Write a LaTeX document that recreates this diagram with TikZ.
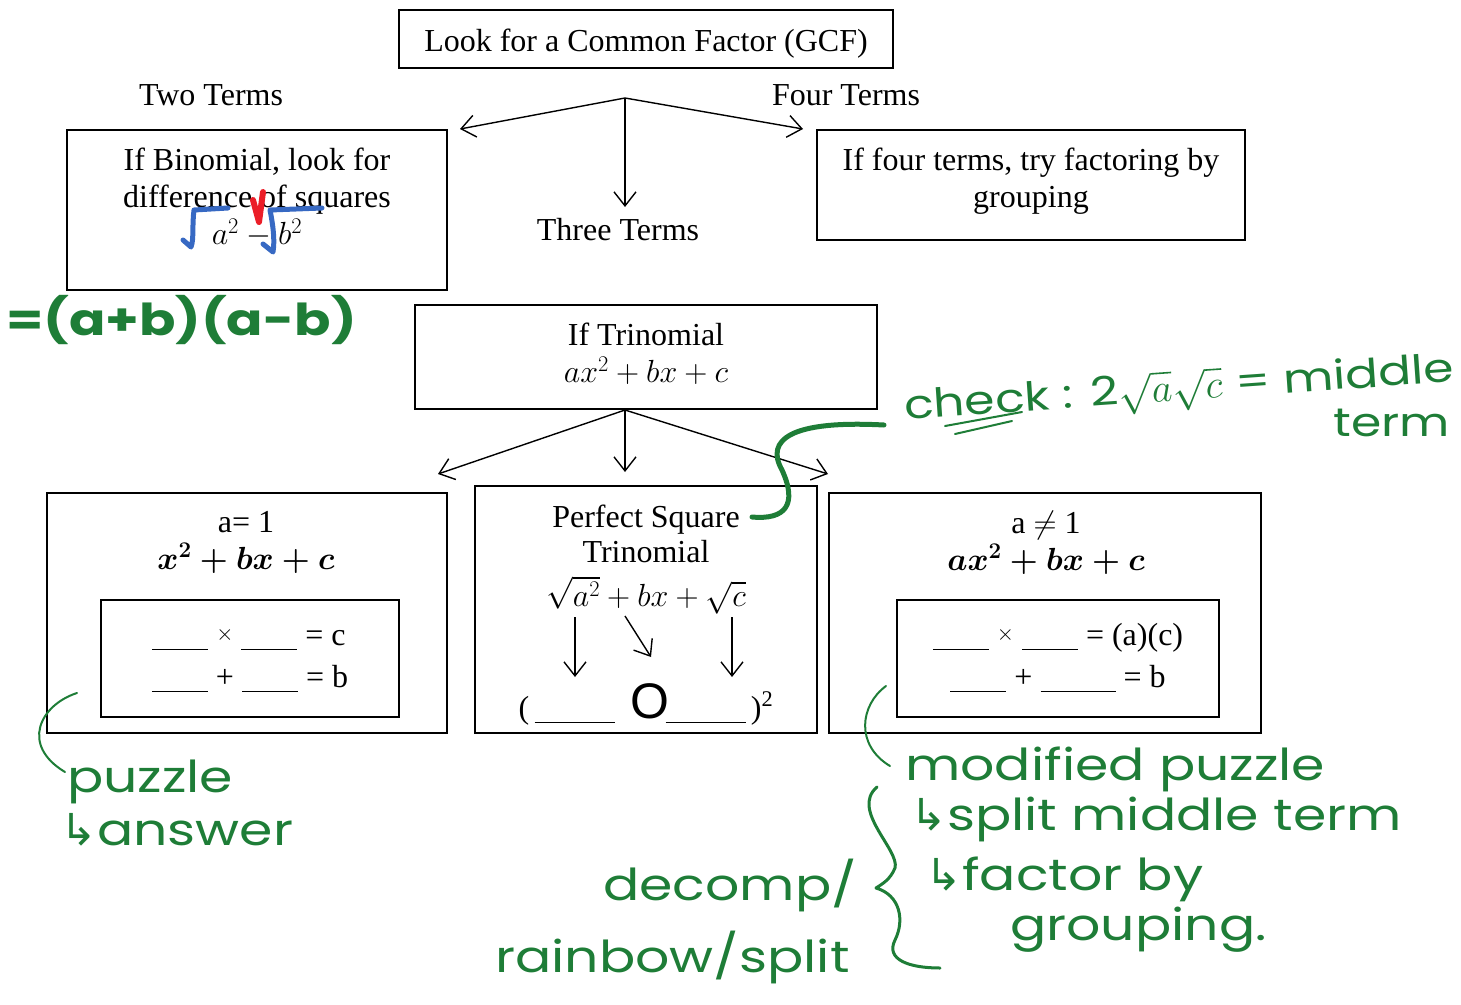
\RequirePackage{fix-cm}
\documentclass[tikz,border=0pt]{standalone}
\usepackage{fontspec}
\setmainfont{Liberation Serif}
\newfontfamily\hand[FakeStretch=1.22]{Poppins}
\newfontfamily\arialfont{Liberation Sans}
\newfontfamily\symfont{DejaVu Sans}
\usetikzlibrary{arrows.meta}
\definecolor{pen}{RGB}{30,125,55}
\definecolor{penblue}{RGB}{55,105,195}
\definecolor{penred}{RGB}{235,30,40}
\newcommand{\blank}[1][56pt]{\rule[-5pt]{#1}{1.3pt}}
\newcommand{\hookarrow}{{\symfont ↳}}
\newcommand{\smalltimes}{\raisebox{5pt}{\fontsize{22}{22}\selectfont$\times$}}

\tikzset{
  box/.style={draw, line width=1.5pt, inner sep=0pt},
  txt/.style={align=center, inner sep=0pt, font=\fontsize{32}{37}\selectfont},
  arr/.style={-{Straight Barb[length=14pt,width=22pt]}, line width=1.4pt},
  hand/.style={text=pen, inner sep=0pt, font=\hand\fontsize{44}{50}\selectfont},
  ink/.style={draw=pen, line width=2pt, line cap=round, line join=round}
}

\begin{document}
\begin{tikzpicture}[x=1pt,y=-1pt]
\useasboundingbox (0,0) rectangle (1461,1004);

% top row
\node[box, minimum width=494pt, minimum height=58pt] (gcf) at (646,39) {};
\node[txt, anchor=base] (gcftxt) at (646,51) {Look for a Common Factor (GCF)};
\node[txt, anchor=base] (two) at (211,105) {Two Terms};
\node[txt, anchor=base] (four) at (846,105) {Four Terms};
\node[txt, anchor=base] (three) at (618,240) {Three Terms};

\coordinate (fork1) at (625,98);
\coordinate (to2) at (460,129);
\coordinate (to4) at (803,129);
\coordinate (to3) at (625,207);
\draw[arr] (fork1) -- (to2);
\draw[arr] (fork1) -- (to4);
\draw[arr] (fork1) -- (to3);

% binomial and four terms
\node[box, minimum width=380pt, minimum height=160pt] (binom) at (257,210) {};
\node[txt, anchor=north] (binomtxt) at (257,148) {If Binomial, look for\\difference of squares\\$a^2-b^2$};
\node[box, minimum width=428pt, minimum height=110pt] (fourbox) at (1031,185) {};
\node[txt, anchor=north] (fourtxt) at (1031,148) {If four terms, try factoring by\\grouping};

% trinomial
\node[box, minimum width=462pt, minimum height=104pt] (tri) at (646,357) {};
\node[txt, anchor=north] (tritxt) at (646,323) {If Trinomial\\$ax^2+bx+c$};

\coordinate (fork2) at (625,410);
\coordinate (toA) at (438,474);
\coordinate (toP) at (625,472);
\coordinate (toB) at (828,474);
\draw[arr] (fork2) -- (toA);
\draw[arr] (fork2) -- (toP);
\draw[arr] (fork2) -- (toB);

% a = 1
\node[box, minimum width=400pt, minimum height=240pt] (aone) at (247,613) {};
\node[txt, anchor=north] (aonetxt) at (246,511) {a= 1\\{\boldmath$x^2+bx+c$}};
\node[box, minimum width=298pt, minimum height=117pt] (puzzle) at (250,658.5) {};
\node[txt, anchor=base] (puzzlemul) at (249,645) {\blank\ \smalltimes\ \blank\ = c};
\node[txt, anchor=base] (puzzleadd) at (250,687) {\blank\ + \blank\ = b};

% perfect square
\node[box, line width=2.2pt, minimum width=342pt, minimum height=247pt] (perfect) at (646,609.5) {};
\node[txt, anchor=north, font=\fontsize{32}{35}\selectfont] (perfecttxt) at (646,505) {Perfect Square\\Trinomial};
\node[txt, anchor=base] (perfectmath) at (646,606) {$\sqrt{a^2}+bx+\sqrt{c}$};
\coordinate (sqa) at (575,617);
\coordinate (sqb) at (625,616);
\coordinate (sqc) at (732,617);
\coordinate (sqa2) at (575,677);
\coordinate (sqb2) at (651,657);
\coordinate (sqc2) at (732,677);
\draw[arr] (sqa) -- (sqa2);
\draw[arr] (sqb) -- (sqb2);
\draw[arr] (sqc) -- (sqc2);
\node[txt, anchor=base] (perfectans) at (646,718) {(\,\blank[80pt]\hspace{16pt}{\arialfont\fontsize{50}{50}\selectfont O}\hspace{-4pt}\blank[80pt]\,)\textsuperscript{2}};

% a not 1
\node[box, minimum width=432pt, minimum height=240pt] (anot) at (1045,613) {};
\node[txt, anchor=north] (anottxt) at (1046,511) {a $\neq$ 1\\{\boldmath$ax^2+bx+c$}};
\node[box, minimum width=322pt, minimum height=117pt] (mpuzzle) at (1058,658.5) {};
\node[txt, anchor=base] (mpuzzlemul) at (1058,645) {\blank\ \smalltimes\ \blank\ = (a)(c)};
\node[txt, anchor=base] (mpuzzleadd) at (1058,687) {\blank\ + \blank[75pt]\ = b};

% pen marks on a^2 - b^2
\draw[penblue, line width=5pt, line cap=round, line join=round] (228,208) -- (194,210) .. controls (192,225) and (194,240) .. (191,247) -- (183,240);
\draw[penblue, line width=5pt, line cap=round, line join=round] (322,208) -- (270,210) .. controls (273,225) and (275,240) .. (273,252) -- (263,244);
\draw[penred, line width=6pt, line cap=round, line join=round] (253,200) -- (259,222) -- (263,192);

% handwriting
\node[hand, font=\hand\bfseries\fontsize{44}{50}\selectfont, anchor=base west] (diffsq) at (6,335) {=(a+b)(a-b)};

\draw[ink, line width=5pt] (884,425) .. controls (790,420) and (765,440) .. (782,470) .. controls (798,505) and (785,520) .. (752,517);
\node[hand, font=\hand\fontsize{40}{46}\selectfont, anchor=base west, rotate=4] (check) at (905,420) {check : 2$\sqrt{a}\sqrt{c}$ = middle};
\node[hand, font=\hand\fontsize{40}{46}\selectfont, anchor=base] (checkterm) at (1392,436) {term};
\draw[ink] (945,426) -- (1022,412);
\draw[ink] (955,434) -- (1012,421);

\draw[ink] (77,693) .. controls (40,705) and (20,745) .. (65,772);
\node[hand, anchor=base west] (puzzlenote) at (67,792) {puzzle};
\node[hand, anchor=base west] (answer) at (60,845) {\hookarrow answer};

\draw[ink] (886,686) .. controls (860,705) and (855,745) .. (890,766);
\node[hand, anchor=base west] (modified) at (905,780) {modified puzzle};
\node[hand, anchor=base west] (splitmid) at (910,830) {\hookarrow split middle term};
\node[hand, anchor=base west] (factorby) at (925,890) {\hookarrow factor by};
\node[hand, anchor=base west] (grouping) at (1010,940) {grouping.};

\draw[ink, line width=3pt] (877,787) .. controls (850,810) and (900,850) .. (895,868) .. controls (890,880) and (882,884) .. (876,888) .. controls (900,895) and (905,920) .. (895,940) .. controls (885,960) and (910,968) .. (940,968);
\node[hand, anchor=base west] (decomp) at (603,900) {decomp/};
\node[hand, anchor=base west] (rainbow) at (495,972) {rainbow/split};

\end{tikzpicture}
\end{document}
